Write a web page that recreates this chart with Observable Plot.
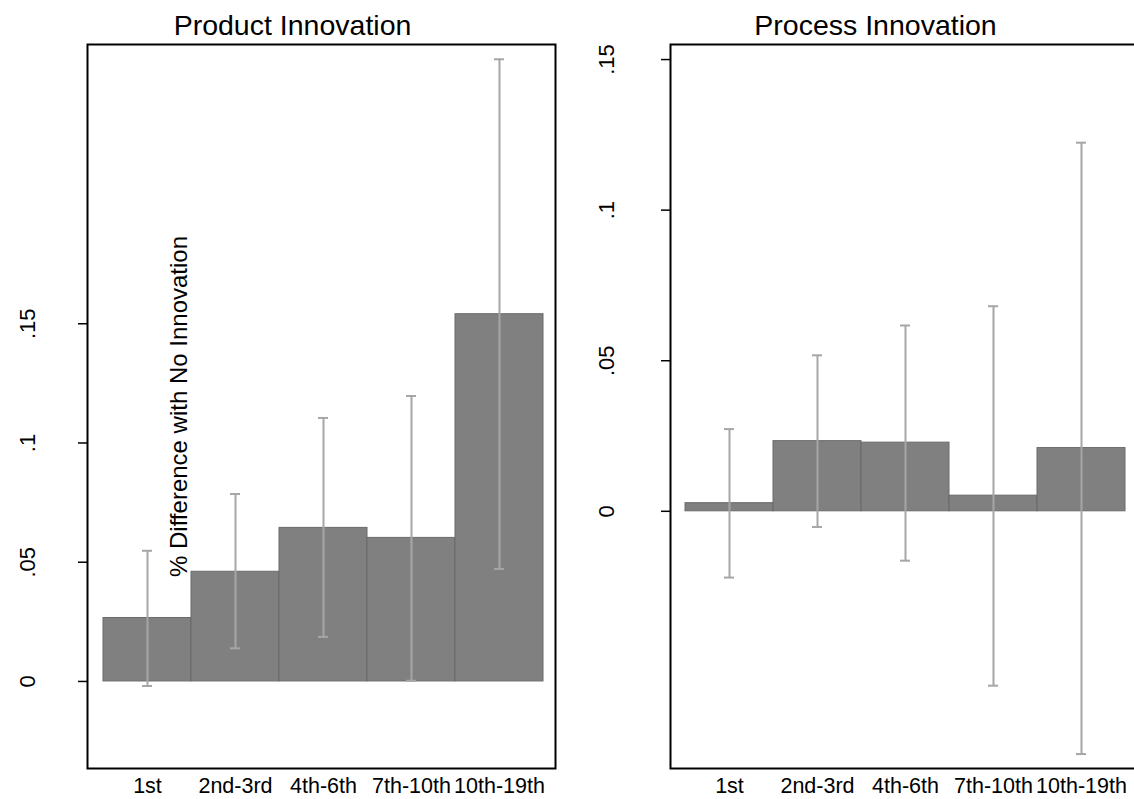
<!DOCTYPE html>
<html>
<head>
<meta charset="utf-8">
<script src="https://cdn.jsdelivr.net/npm/d3@7"></script>
<script src="https://cdn.jsdelivr.net/npm/@observablehq/plot@0.6"></script>
<style>
  html, body { margin: 0; padding: 0; background: white; }
  #wrap { position: relative; width: 1134px; height: 799px; overflow: hidden; background: white; }
  #left { position: absolute; left: 0; top: 0; width: 580px; }
  #right { position: absolute; left: 580px; top: 0; width: 600px; }
  #wrap svg { max-width: none !important; }
</style>
</head>
<body>
<div id="wrap"><div id="left"></div><div id="right"></div></div>
<script>
const categories = ["1st", "2nd-3rd", "4th-6th", "7th-10th", "10th-19th"];
const productEst = [0.0266, 0.0460, 0.0644, 0.0602, 0.1540];
const productLo  = [-0.0019, 0.0139, 0.0187, 0.0003, 0.0472];
const productHi  = [0.0548, 0.0786, 0.1105, 0.1197, 0.2609];
const processEst = [0.0027, 0.0233, 0.0228, 0.0052, 0.0210];
const processLo  = [-0.0220, -0.0052, -0.0164, -0.0579, -0.0806];
const processHi  = [0.0273, 0.0518, 0.0617, 0.0681, 0.1224];
const yTicks = [0, 0.05, 0.1, 0.15];
const yTickLabels = ["0", ".05", ".1", ".15"];
const yTitle = "% Difference with No Innovation";

const FONT = "Liberation Sans, Arial, sans-serif";
const BAR_FILL = "#808080", BAR_STROKE = "#6b6b6b", ERR = "#a6a6a6";

function rows(est, lo, hi) {
  return categories.map((c, i) => ({cat: c, est: est[i], lo: lo[i], hi: hi[i]}));
}

function panel({data, title, width, marginLeft, marginRight, yDomain, insetLeft, insetRight, labelDx, titleDx, withYTitle}) {
  const marks = [
    Plot.barY(data, {x: "cat", y1: 0, y2: "est", fill: BAR_FILL, stroke: BAR_STROKE, strokeWidth: 1}),
    Plot.ruleX(data, {x: "cat", y1: "lo", y2: "hi", stroke: ERR, strokeWidth: 2}),
    Plot.tickY(data, {x: "cat", y: "lo", stroke: ERR, strokeWidth: 2, insetLeft: 39, insetRight: 39}),
    Plot.tickY(data, {x: "cat", y: "hi", stroke: ERR, strokeWidth: 2, insetLeft: 39, insetRight: 39}),
    Plot.frame({stroke: "black", strokeWidth: 2}),
    Plot.axisY(yTicks, {tickSize: 9, tickFormat: () => "", strokeWidth: 1.5}),
    Plot.text(yTicks, {y: d => d, text: (d, i) => yTickLabels[i], frameAnchor: "left", textAnchor: "middle", lineAnchor: "middle", dx: labelDx, rotate: -90, fontSize: 22}),
    Plot.text(categories, {x: d => d, text: d => d, frameAnchor: "bottom", textAnchor: "middle", lineAnchor: "middle", dy: 18, fontSize: 21.5}),
    Plot.text([title], {text: d => d, frameAnchor: "top", textAnchor: "middle", lineAnchor: "middle", dx: titleDx, dy: -19, fontSize: 28.5})
  ];
  if (withYTitle) {
    marks.push(Plot.text([yTitle], {text: d => d, frameAnchor: "left", textAnchor: "middle", lineAnchor: "middle", dx: 92, rotate: -90, fontSize: 24}));
  }
  return Plot.plot({
    width, height: 799,
    marginLeft, marginRight, marginTop: 44, marginBottom: 31,
    style: {fontFamily: FONT, background: "white", color: "black", overflow: "visible", maxWidth: "none"},
    x: {type: "band", domain: categories, padding: 0, insetLeft, insetRight, axis: null},
    y: {domain: yDomain},
    marks
  });
}

document.getElementById("left").appendChild(panel({
  data: rows(productEst, productLo, productHi),
  title: "Product Innovation",
  width: 580, marginLeft: 87, marginRight: 25,
  yDomain: [-0.0365, 0.2671],
  insetLeft: 14, insetRight: 11,
  labelDx: -60, titleDx: -29, withYTitle: true
}));

document.getElementById("right").appendChild(panel({
  data: rows(processEst, processLo, processHi),
  title: "Process Innovation",
  width: 600, marginLeft: 90, marginRight: 41,
  yDomain: [-0.0854, 0.155],
  insetLeft: 13.5, insetRight: 13.3,
  labelDx: -64, titleDx: -29.5, withYTitle: false
}));
</script>
</body>
</html>
